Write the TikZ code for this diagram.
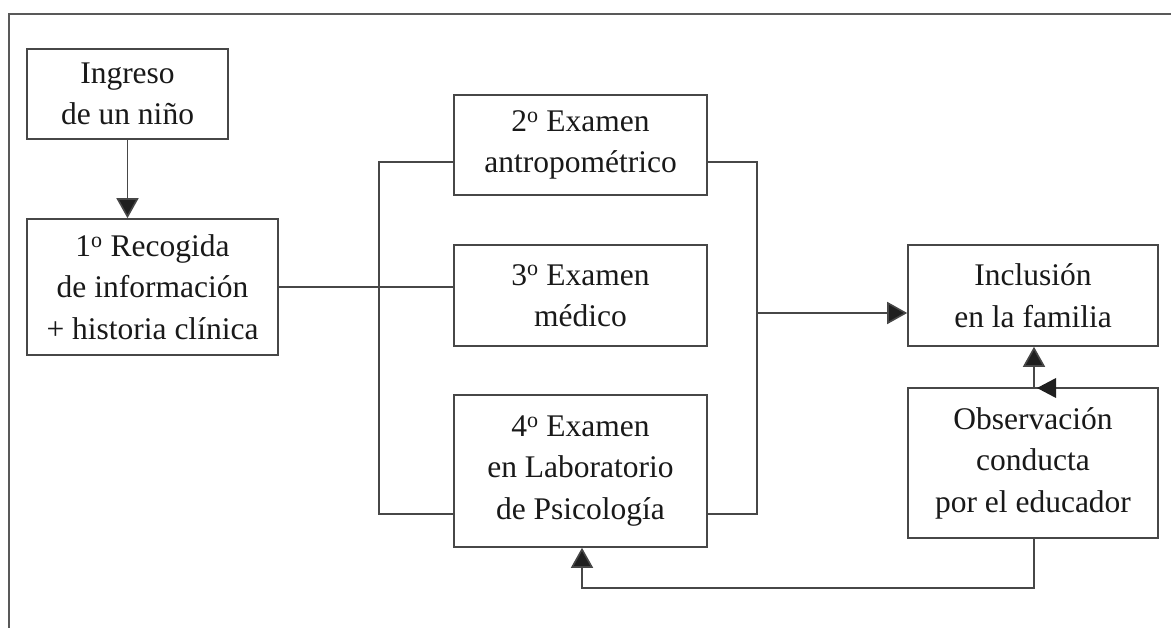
\documentclass[tikz,border=0pt]{standalone}
\usepackage{fontspec}
\setmainfont{Liberation Serif}
\usetikzlibrary{arrows.meta}
\begin{document}
\begin{tikzpicture}[x=1pt,y=-1pt,
  line width=1.6pt,
  boxstyle/.style={draw=black!72, fill=white, inner sep=0pt, align=center,
    font=\fontsize{31.5}{41.5}\selectfont, text=black!90},
  link/.style={draw=black!72},
  tip/.style={-{Triangle[length=20pt,width=22pt,fill=black!88]}, draw=black!72},
  framestyle/.style={draw=black!65, line width=1.4pt}]
\useasboundingbox (0,0) rectangle (1171,628);
% outer frame (top and left only)
\coordinate (fa) at (1171,14);
\coordinate (fb) at (9,14);
\coordinate (fc) at (9,628);
\draw[framestyle] (fa) -- (fb) -- (fc);

% boxes
\node[boxstyle, minimum width=201pt, minimum height=90pt] (ingreso) at (127.5,94) {Ingreso\\de un niño};
\node[boxstyle, minimum width=251pt, minimum height=136pt] (recog) at (152.5,287) {1\textsuperscript{o} Recogida\\de información\\+ historia clínica};
\node[boxstyle, minimum width=253pt, minimum height=100pt] (ex2) at (580.5,145) {2\textsuperscript{o} Examen\\antropométrico};
\node[boxstyle, minimum width=253pt, minimum height=101pt] (ex3) at (580.5,295.5) {3\textsuperscript{o} Examen\\médico};
\node[boxstyle, minimum width=253pt, minimum height=152pt] (ex4) at (580.5,471) {4\textsuperscript{o} Examen\\en Laboratorio\\de Psicología};
\node[boxstyle, minimum width=250pt, minimum height=101pt] (incl) at (1033,295.5) {Inclusión\\en la familia};
\node[boxstyle, minimum width=250pt, minimum height=150pt] (obs) at (1033,463) {Observación\\conducta\\por el educador};

% helper coordinates
\coordinate (lt) at (379,162);
\coordinate (lb) at (379,514);
\coordinate (rt) at (757,162);
\coordinate (rb) at (757,514);
\coordinate (rm) at (757,313);
\coordinate (bl) at (582,588);
\coordinate (br) at (1034,588);

% connectors
\draw[tip] (ingreso.south) -- (ingreso.south |- recog.north);
\draw[link] (recog.east) -- (recog.east -| ex3.west);
\draw[link] (ex2.west |- lt) -- (lt) -- (lb) -- (ex4.west |- lb);
\draw[link] (ex2.east |- rt) -- (rt) -- (rb) -- (ex4.east |- rb);
\draw[tip] (rm) -- (rm -| incl.west);
\draw[tip] (obs.north -| br) -- (incl.south -| br);
\draw[tip] (obs.south -| br) -- (br) -- (bl) -- (ex4.south -| bl);
% small left-pointing triangle on top edge of the observation box
\coordinate (ta) at (1037,388);
\coordinate (tb) at (1056,378);
\coordinate (tc) at (1056,398);
\fill[black!88] (ta) -- (tb) -- (tc) -- cycle;
\end{tikzpicture}
\end{document}
